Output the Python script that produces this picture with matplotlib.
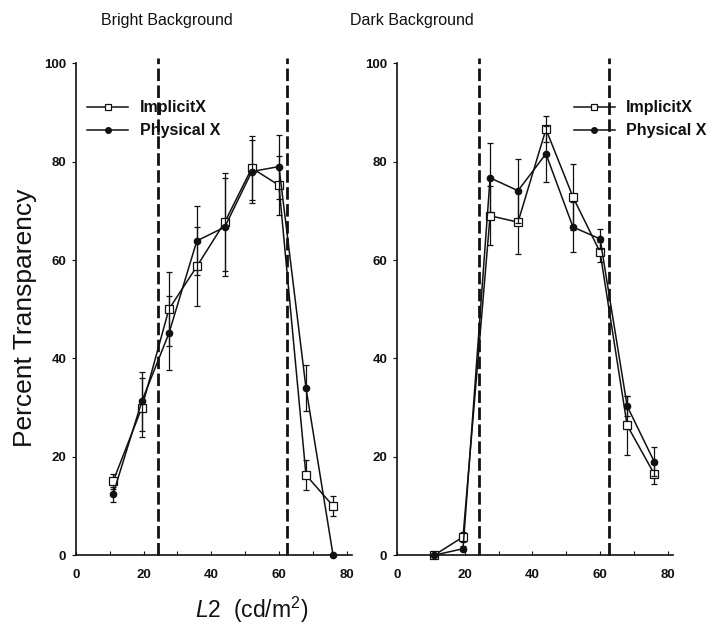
import matplotlib

matplotlib.use("Agg")
import matplotlib.pyplot as plt
from matplotlib.lines import Line2D
from matplotlib.ticker import MultipleLocator

plt.rcParams["font.family"] = ["Liberation Sans", "DejaVu Sans"]
plt.rcParams["mathtext.fontset"] = "custom"
plt.rcParams["mathtext.rm"] = "Liberation Sans"
plt.rcParams["mathtext.it"] = "Liberation Sans:italic"

# luminance levels (cd/m2)
L2 = [11, 19.5, 27.5, 35.75, 44, 52, 60, 68, 76]
BOUNDS = [24.3, 62.5]  # dashed reference lines

# Bright background
bright_implicit = [15, 30, 50, 58.7, 67.7, 78.7, 75.2, 16.3, 10]
bright_implicit_err = [1.5, 6, 7.5, 8, 10, 6.5, 6, 3, 2]
bright_physical = [12.4, 31.3, 45.1, 63.9, 66.7, 78, 79, 34, 0]
bright_physical_err = [1.5, 6, 7.5, 7, 10, 6.5, 6.5, 4.7, 0]

# Dark background
dark_implicit = [0, 3.7, 69, 67.7, 86.6, 72.8, 61.6, 26.4, 16.5]
dark_implicit_err = [0, 1, 6, 6.5, 2.7, 6.7, 2, 6, 2]
dark_physical = [0, 1.3, 76.7, 74.1, 81.6, 66.7, 64.3, 30.3, 19]
dark_physical_err = [0, 0.5, 7, 6.5, 5.7, 5, 2, 2, 3]

INK = "#111111"

IMP_STYLE = dict(color=INK, lw=1.1, marker="s", markersize=5.5,
                 markerfacecolor="white", markeredgecolor=INK,
                 markeredgewidth=0.9)
PHY_STYLE = dict(color=INK, lw=1.1, marker="o", markersize=4.5,
                 markerfacecolor=INK, markeredgecolor=INK)

fig = plt.figure(figsize=(7.09, 6.33), dpi=100)
fig.patch.set_facecolor("white")

ax_l = fig.add_axes([0.107, 0.123, 0.389, 0.777])
ax_r = fig.add_axes([0.560, 0.123, 0.389, 0.777])


def draw_panel(ax, imp, imp_err, phy, phy_err, legend_anchor):
    for b in BOUNDS:
        ax.plot([b, b], [0, 101], color=INK, lw=2.0, dashes=(4.5, 1.6),
                clip_on=False, zorder=1)
    ax.errorbar(L2, imp, yerr=imp_err, elinewidth=0.9, capsize=2.5,
                capthick=0.9, zorder=3, clip_on=False, **IMP_STYLE)
    ax.errorbar(L2, phy, yerr=phy_err, elinewidth=0.9, capsize=2.5,
                capthick=0.9, zorder=4, clip_on=False, **PHY_STYLE)

    ax.set_xlim(0, 81.5)
    ax.set_ylim(0, 100)
    ax.xaxis.set_major_locator(MultipleLocator(20))
    ax.xaxis.set_minor_locator(MultipleLocator(10))
    ax.yaxis.set_major_locator(MultipleLocator(20))
    for side in ("top", "right"):
        ax.spines[side].set_visible(False)
    for side in ("left", "bottom"):
        ax.spines[side].set_linewidth(1.2)
        ax.spines[side].set_color(INK)
    ax.tick_params(axis="x", which="both", direction="in", length=3,
                   width=0.8, colors=INK, pad=10)
    ax.tick_params(axis="y", direction="out", length=3, width=0.8,
                   colors=INK, pad=4)
    for lab in ax.get_xticklabels() + ax.get_yticklabels():
        lab.set_fontweight("bold")
        lab.set_fontsize(9.5)

    handles = [Line2D([], [], **{**IMP_STYLE, "markersize": 5}),
               Line2D([], [], **{**PHY_STYLE, "markersize": 4})]
    leg = ax.legend(handles, ["ImplicitX", "Physical X"], loc="upper left",
                    bbox_to_anchor=legend_anchor, frameon=False,
                    handlelength=2.6, handletextpad=0.7, labelspacing=0.5,
                    borderpad=0, borderaxespad=0,
                    prop={"weight": "bold", "size": 11.5})
    for t in leg.get_texts():
        t.set_color(INK)


draw_panel(ax_l, bright_implicit, bright_implicit_err,
           bright_physical, bright_physical_err, (0.04, 0.925))
draw_panel(ax_r, dark_implicit, dark_implicit_err,
           dark_physical, dark_physical_err, (0.64, 0.925))

fig.text(167 / 709, 1 - 20 / 633, "Bright Background", ha="center",
         va="center", fontsize=11.5, color=INK)
fig.text(412 / 709, 1 - 20 / 633, "Dark Background", ha="center",
         va="center", fontsize=11.5, color=INK)
fig.text(25 / 709, 1 - 318 / 633, "Percent Transparency", rotation=90,
         ha="center", va="center", fontsize=19, color=INK)
fig.text(252 / 709, 1 - 610 / 633, r"$\it{L2}$  (cd/m$^{2}$)", ha="center",
         va="center", fontsize=16.5, color=INK)

fig.savefig("out.png", dpi=100, facecolor="white")
